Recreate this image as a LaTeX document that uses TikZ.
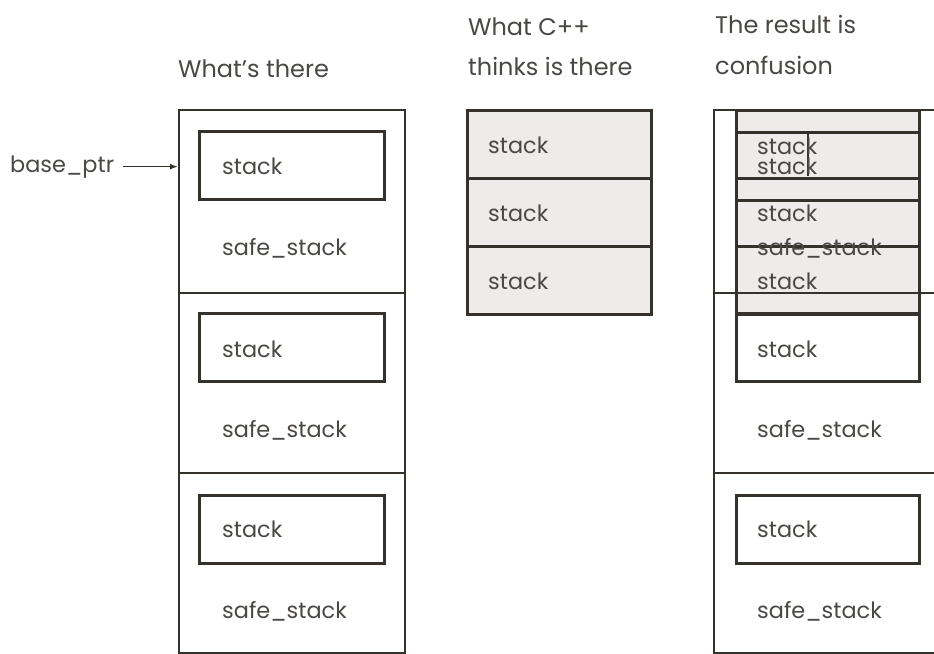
\documentclass[tikz,border=0pt]{standalone}
\usepackage{fontspec}
\setmainfont{Poppins}
\usetikzlibrary{arrows.meta}
\definecolor{linec}{HTML}{35322D}
\definecolor{textc}{HTML}{4A4845}
\definecolor{grayc}{HTML}{EDECEA}
\begin{document}
\begin{tikzpicture}[x=1pt,y=-1pt,
  lbl/.style={anchor=base west,inner sep=0pt,text=textc,font=\fontsize{22.4}{26}\selectfont},
  ttl/.style={lbl,font=\fontsize{24}{28}\selectfont},
  outerbox/.style={draw=linec,line width=2.4pt,rectangle,anchor=north west,inner sep=0pt,minimum width=226pt},
  stackbox/.style={draw=linec,line width=2.8pt,rectangle,anchor=north west,inner sep=0pt,minimum width=185pt,minimum height=68pt},
  cellbox/.style={draw=linec,line width=2.8pt,rectangle,anchor=north west,inner sep=0pt,minimum width=184pt,minimum height=68pt},
  arr/.style={draw=linec,line width=1.6pt,-{Latex[length=8pt,width=6pt]}}]
\clip (0,0) rectangle (934,653);
\fill[white] (0,0) rectangle (934,653);

% titles
\node[ttl] (t1) at (178,77) {What’s there};
\node[ttl] (t2a) at (468,35) {What C++};
\node[ttl] (t2b) at (468,75) {thinks is there};
\node[ttl] (t3a) at (715,33) {The result is};
\node[ttl] (t3b) at (715,74) {confusion};

% ---------- left column ----------
\node[outerbox,minimum height=183pt] (a1) at (178,109) {};
\node[outerbox,minimum height=180pt] (a2) at (178,292) {};
\node[outerbox,minimum height=180pt] (a3) at (178,472) {};
\node[stackbox] (as1) at (198,130) {};
\node[stackbox] (as2) at (198,312) {};
\node[stackbox] (as3) at (198,494) {};
\node[lbl] at (222,174) {stack};
\node[lbl] at (222,255) {safe\_stack};
\node[lbl] at (222,357) {stack};
\node[lbl] at (222,437) {safe\_stack};
\node[lbl] at (222,537) {stack};
\node[lbl] at (222,618) {safe\_stack};

\node[lbl] (bp) at (10,172) {base\_ptr};
\draw[arr] ([xshift=9pt]bp.east) -- (a1.west |- bp.east);

% ---------- middle column ----------
\node[cellbox,fill=grayc] (b1) at (466,109) {};
\node[cellbox,fill=grayc] (b2) at (466,177) {};
\node[cellbox,fill=grayc] (b3) at (466,245) {};
\node[lbl] at (488,153) {stack};
\node[lbl] at (488,221) {stack};
\node[lbl] at (488,289) {stack};

% ---------- right column ----------
\fill[grayc] (735,109) rectangle (918,312);
\node[outerbox,minimum height=183pt] (c1) at (713,109) {};
\node[outerbox,minimum height=180pt] (c2) at (713,292) {};
\node[outerbox,minimum height=180pt] (c3) at (713,472) {};
\node[cellbox,minimum width=183pt] (d1) at (735,109) {};
\node[cellbox,minimum width=183pt] (d2) at (735,177) {};
\node[cellbox,minimum width=183pt] (d3) at (735,245) {};
\node[stackbox,minimum width=183pt] (cs1) at (735,131) {};
\node[stackbox,minimum width=183pt] (cs2) at (735,312) {};
\node[stackbox,minimum width=183pt] (cs3) at (735,494) {};
\draw[linec,line width=1.4pt] (808,131) -- (808,176);
\node[lbl] at (757,154) {stack};
\node[lbl] at (757,174) {stack};
\node[lbl] at (757,221) {stack};
\node[lbl] at (757,255) {safe\_stack};
\node[lbl] at (757,289) {stack};
\node[lbl] at (757,357) {stack};
\node[lbl] at (757,437) {safe\_stack};
\node[lbl] at (757,537) {stack};
\node[lbl] at (757,618) {safe\_stack};
\end{tikzpicture}
\end{document}
